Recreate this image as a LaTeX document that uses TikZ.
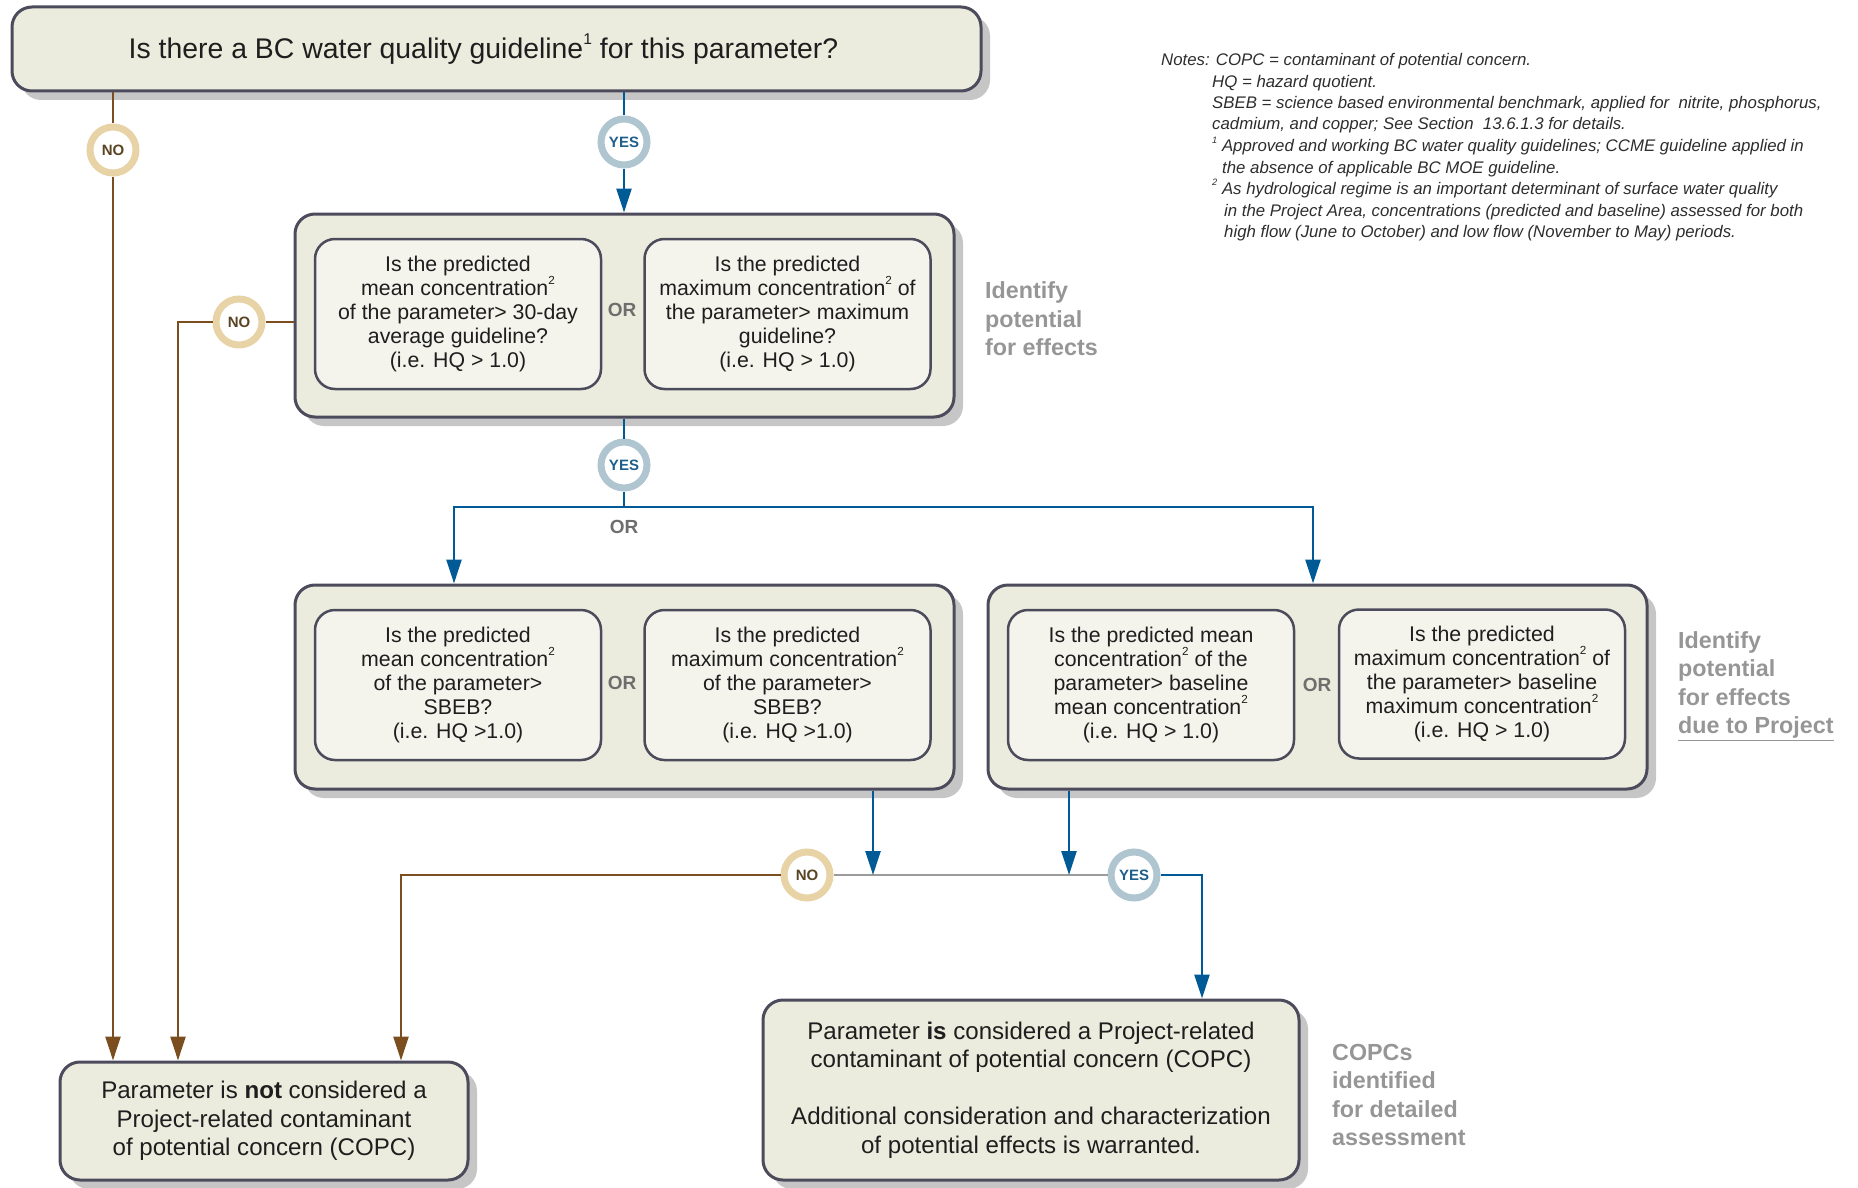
\documentclass[tikz,border=0pt]{standalone}
\usepackage{fontspec}
\usepackage{graphicx}
\setmainfont{Liberation Sans}
\usetikzlibrary{arrows.meta,shadows}
\definecolor{bluec}{RGB}{0,90,150}
\definecolor{brownc}{RGB}{122,78,30}
\definecolor{grayc}{RGB}{155,155,155}
\definecolor{yesc}{RGB}{175,197,208}
\definecolor{yestxt}{RGB}{31,95,140}
\definecolor{noc}{RGB}{232,211,166}
\definecolor{notxt}{RGB}{90,68,36}
\definecolor{outerfill}{RGB}{236,236,222}
\definecolor{innerfill}{RGB}{244,244,236}
\definecolor{bordc}{RGB}{75,75,92}
\definecolor{shadowc}{RGB}{198,198,198}
\definecolor{sidec}{RGB}{150,150,150}
\definecolor{textc}{RGB}{30,30,30}
\definecolor{orc}{RGB}{110,110,110}
\definecolor{notec}{RGB}{45,45,45}
\newcommand{\fsTitle}{\fontsize{28.4}{32}\selectfont}
\newcommand{\fsInner}{\fontsize{21.3}{24}\selectfont}
\newcommand{\fsBottom}{\fontsize{24.1}{28.5}\selectfont}
\newcommand{\fsRing}{\fontsize{15}{17}\selectfont\bfseries}
\newcommand{\fsOr}{\fontsize{19}{22}\selectfont\bfseries}
\newcommand{\fsSide}{\fontsize{23.3}{28.5}\selectfont\bfseries}
\newcommand{\fsNote}{\fontsize{16.8}{20}\selectfont\itshape}
\newcommand{\supx}[1]{\raisebox{0.5em}{\scalebox{0.55}{#1}}}
\tikzset{
 outerbox/.style={draw=bordc, line width=3pt, fill=outerfill, rounded corners=20pt,
   drop shadow={shadow xshift=9pt,shadow yshift=-9pt,fill=shadowc,opacity=1},
   inner sep=0pt, align=center, text=textc},
 innerbox/.style={draw=bordc, line width=2.5pt, fill=innerfill, rounded corners=20pt,
   minimum width=286pt, minimum height=150pt, align=center, font=\fsInner, text=textc, inner sep=0pt},
 ring/.style={circle, line width=7pt, fill=white, minimum size=46pt, inner sep=0pt, font=\fsRing},
 yesring/.style={ring, draw=yesc, text=yestxt},
 noring/.style={ring, draw=noc, text=notxt},
 orlab/.style={font=\fsOr, text=orc, inner sep=0pt},
 sidelab/.style={font=\fsSide, text=sidec, align=left, anchor=west, inner sep=0pt},
 noteline/.style={font=\fsNote, text=notec, anchor=base west, inner sep=0pt},
 blueln/.style={draw=bluec, line width=2.5pt},
 bluearr/.style={blueln, -{Triangle[length=24pt,width=15pt]}},
 brownln/.style={draw=brownc, line width=2.5pt},
 brownarr/.style={brownln, -{Triangle[length=24pt,width=15pt]}},
 grayln/.style={draw=grayc, line width=2.5pt},
}
\begin{document}
\begin{tikzpicture}[x=1pt,y=-1pt]
\useasboundingbox (0,0) rectangle (1858,1188);

% top question
\node[outerbox, minimum width=969pt, minimum height=84pt, font=\fsTitle] (top) at (496.5,49)
  {Is there a BC water quality guideline\supx{1} for this parameter?\hspace*{26pt}};

% box 2
\node[outerbox, minimum width=659pt, minimum height=203pt] (box2) at (624.5,315.5) {};
\node[innerbox] (b2l) at (458,314) {Is the predicted\\mean concentration\supx{2}\\of the parameter> 30-day\\average guideline?\\(i.e. HQ > 1.0)};
\node[innerbox] (b2r) at (787.5,314) {Is the predicted\\maximum concentration\supx{2} of\\the parameter> maximum\\guideline?\\(i.e. HQ > 1.0)};
\node[orlab] (or2) at (622,310) {OR};
\node[sidelab] (side2) at (985,319) {Identify\\potential\\for effects};

% box 3
\node[outerbox, minimum width=659pt, minimum height=204pt] (box3) at (624.5,687) {};
\node[innerbox] (b3l) at (458,685) {Is the predicted\\mean concentration\supx{2}\\of the parameter>\\SBEB?\\(i.e. HQ >1.0)};
\node[innerbox] (b3r) at (787.5,685) {Is the predicted\\maximum concentration\supx{2}\\of the parameter>\\SBEB?\\(i.e. HQ >1.0)};
\node[orlab] (or3) at (622,683) {OR};

% box 4
\node[outerbox, minimum width=659pt, minimum height=204pt] (box4) at (1317.5,687) {};
\node[innerbox] (b4l) at (1151,685) {Is the predicted mean\\concentration\supx{2} of the\\parameter> baseline\\mean concentration\supx{2}\\(i.e. HQ > 1.0)};
\node[innerbox, minimum height=149pt] (b4r) at (1482,684) {Is the predicted\\maximum concentration\supx{2} of\\the parameter> baseline\\maximum concentration\supx{2}\\(i.e. HQ > 1.0)};
\node[orlab] (or4) at (1317,685) {OR};
\node[sidelab] (side4) at (1678,686) {Identify\\potential\\for effects\\\underline{due to Project}};

% bottom boxes
\node[outerbox, minimum width=408pt, minimum height=118pt, font=\fsBottom] (box5) at (264,1121)
  {Parameter is \textbf{not} considered a\\Project-related contaminant\\of potential concern (COPC)};
\node[outerbox, minimum width=536pt, minimum height=180pt, font=\fsBottom] (box6) at (1031,1090)
  {Parameter \textbf{is} considered a Project-related\\contaminant of potential concern (COPC)\\[28.5pt]Additional consideration and characterization\\of potential effects is warranted.};
\node[sidelab] (side6) at (1332,1095) {COPCs\\identified\\for detailed\\assessment};

% rings
\node[noring] (no1) at (113,150) {NO};
\node[yesring] (yes1) at (624,142) {YES};
\node[noring] (no2) at (239,322) {NO};
\node[yesring] (yes2) at (624,465) {YES};
\node[orlab] (or5) at (624,527) {OR};
\node[noring] (no3) at (807,875) {NO};
\node[yesring] (yes3) at (1134,875) {YES};

% notes
\node[noteline] (n1) at (1161,66) {Notes: COPC = contaminant of potential concern.};
\node[noteline] (n2) at (1212,88) {HQ = hazard quotient.};
\node[noteline] (n3) at (1212,109) {SBEB = science based environmental benchmark, applied for\ \ nitrite, phosphorus,};
\node[noteline] (n4) at (1212,130) {cadmium, and copper; See Section\ \ 13.6.1.3 for details.};
\node[noteline] (n5) at (1212,152) {\supx{1} Approved and working BC water quality guidelines; CCME guideline applied in};
\node[noteline] (n6) at (1222,173) {the absence of applicable BC MOE guideline.};
\node[noteline] (n7) at (1212,194) {\supx{2} As hydrological regime is an important determinant of surface water quality};
\node[noteline] (n8) at (1224,216) {in the Project Area, concentrations (predicted and baseline) assessed for both};
\node[noteline] (n9) at (1224,237) {high flow (June to October) and low flow (November to May) periods.};

% helper coordinates
\coordinate (xNo2) at (178,0);
\coordinate (xNo3) at (401,0);
\coordinate (xYes3) at (1202,0);
\coordinate (xL) at (454,0);
\coordinate (xR) at (1313,0);
\coordinate (xB3) at (873,0);
\coordinate (xB4) at (1069,0);
\coordinate (junc) at (624,507);

% connectors
\draw[brownln] (top.south -| no1) -- (no1);
\draw[brownarr] (no1) -- (no1 |- box5.north);
\draw[blueln] (top.south -| yes1) -- (yes1);
\draw[bluearr] (yes1) -- (yes1 |- box2.north);
\draw[brownln] (box2.west |- no2) -- (no2);
\draw[brownarr] (no2) -| (xNo2 |- box5.north);
\draw[blueln] (box2.south -| yes2) -- (yes2);
\draw[blueln] (yes2) -- (junc);
\draw[bluearr] (junc) -| (xL |- box3.north);
\draw[bluearr] (junc) -| (xR |- box4.north);
\draw[grayln] (no3) -- (yes3);
\draw[bluearr] (xB3 |- box3.south) -- (xB3 |- no3);
\draw[bluearr] (xB4 |- box4.south) -- (xB4 |- yes3);
\draw[brownarr] (no3) -| (xNo3 |- box5.north);
\draw[bluearr] (yes3) -| (xYes3 |- box6.north);
\end{tikzpicture}
\end{document}
